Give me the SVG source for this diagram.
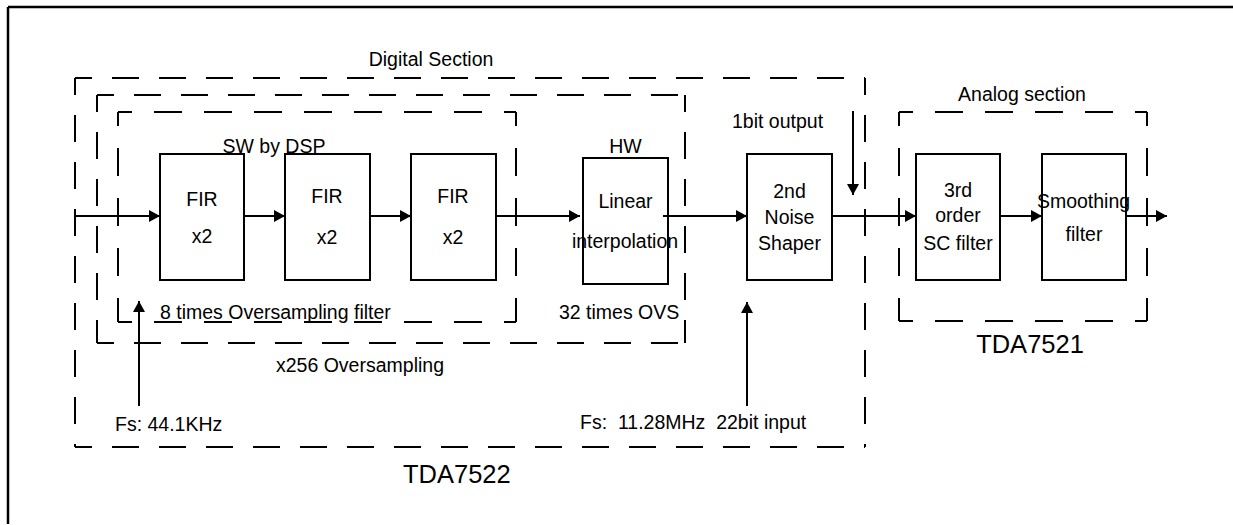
<svg xmlns="http://www.w3.org/2000/svg" width="1233" height="525" viewBox="0 0 1233 525">
<style>
.frame{fill:none;stroke:#000;stroke-width:2.5}
.box{fill:#fff;stroke:#000;stroke-width:2}
.dash{fill:none;stroke:#000;stroke-width:2;stroke-dasharray:27 20;stroke-dashoffset:10}
.dash2{fill:none;stroke:#000;stroke-width:2;stroke-dasharray:28 22;stroke-dashoffset:14}
.wire{fill:none;stroke:#000;stroke-width:2}
.arr{marker-end:url(#ah)}
text{font-family:"Liberation Sans",Arial,Helvetica,sans-serif;font-size:19.5px;fill:#000}
.big{font-size:25.5px}
.c{text-anchor:middle}
</style>
<defs>
<marker id="ah" markerUnits="userSpaceOnUse" markerWidth="12" markerHeight="13" refX="11" refY="6" orient="auto">
<path d="M0,0 L11,6 L0,12 Z" fill="#000"/>
</marker>
</defs>
<rect width="1233" height="525" fill="#fff"/>
<path class="frame" d="M8,7H1233 M8,7V524"/>

<g id="digital-section">
<path class="dash" d="M75,78H865 M865,78V447 M75,447H865 M75,78V447"/>
<text class="c" x="431" y="66">Digital Section</text>
<text x="276" y="372">x256 Oversampling</text>
<text class="big" x="403" y="483">TDA7522</text>
<text x="115" y="431">Fs: 44.1KHz</text>
<text x="580" y="429" xml:space="preserve">Fs:  11.28MHz  22bit input</text>
<text x="732" y="128">1bit output</text>
</g>

<g id="ovs-32">
<path class="dash" d="M97,95H685 M685,95V343 M97,343H685 M97,95V343"/>
<text x="559" y="319">32 times OVS</text>
</g>

<g id="ovs-8">
<path class="dash2" d="M118,112H516 M516,112V322 M118,322H516 M118,112V322"/>
<text x="160" y="319">8 times Oversampling filter</text>
</g>

<g id="analog-section">
<path class="dash2" d="M899,112H1147 M1147,112V321 M899,321H1147 M899,112V321"/>
<text class="c" x="1022" y="101">Analog section</text>
<text class="big c" x="1030" y="353">TDA7521</text>
</g>

<g id="connectors">
<line class="wire arr" x1="75" y1="216" x2="160" y2="216"/>
<line class="wire arr" x1="244" y1="216" x2="285" y2="216"/>
<line class="wire arr" x1="370" y1="216" x2="411" y2="216"/>
<line class="wire arr" x1="496" y1="216" x2="580" y2="216"/>
<line class="wire arr" x1="663" y1="216" x2="747" y2="216"/>
<line class="wire arr" x1="832" y1="216" x2="916" y2="216"/>
<line class="wire arr" x1="1000" y1="216" x2="1042" y2="216"/>
<line class="wire arr" x1="1126" y1="216" x2="1167" y2="216"/>
<line class="wire arr" x1="853" y1="111" x2="853" y2="195"/>
<line class="wire arr" x1="139" y1="406" x2="139" y2="301"/>
<line class="wire arr" x1="747" y1="406" x2="747" y2="302"/>
</g>

<g id="fir1">
<rect class="box" x="160" y="154" width="84" height="126"/>
<text class="c" x="202" y="206">FIR</text>
<text class="c" x="202" y="243">x2</text>
</g>
<g id="fir2">
<rect class="box" x="285" y="154" width="85" height="126"/>
<text class="c" x="327" y="203">FIR</text>
<text class="c" x="327" y="244">x2</text>
</g>
<g id="fir3">
<rect class="box" x="411" y="154" width="85" height="126"/>
<text class="c" x="453" y="203">FIR</text>
<text class="c" x="453" y="244">x2</text>
</g>
<text class="c" x="274" y="153">SW by DSP</text>

<g id="linear">
<rect class="box" x="583" y="158" width="85" height="126" style="fill:none"/>
<text class="c" x="625.5" y="153">HW</text>
<text class="c" x="625.5" y="208">Linear</text>
<text class="c" x="625" y="248">interpolation</text>
</g>

<g id="noise-shaper">
<rect class="box" x="747" y="154" width="85" height="126"/>
<text class="c" x="789.5" y="198">2nd</text>
<text class="c" x="789.5" y="224">Noise</text>
<text class="c" x="789.5" y="250">Shaper</text>
</g>

<g id="sc-filter">
<rect class="box" x="916" y="154" width="84" height="126"/>
<text class="c" x="958" y="197">3rd</text>
<text class="c" x="958" y="222">order</text>
<text class="c" x="958" y="250">SC filter</text>
</g>

<g id="smoothing">
<rect class="box" x="1042" y="154" width="84" height="126"/>
<text class="c" x="1083.5" y="208">Smoothing</text>
<text class="c" x="1084" y="241">filter</text>
</g>
</svg>
